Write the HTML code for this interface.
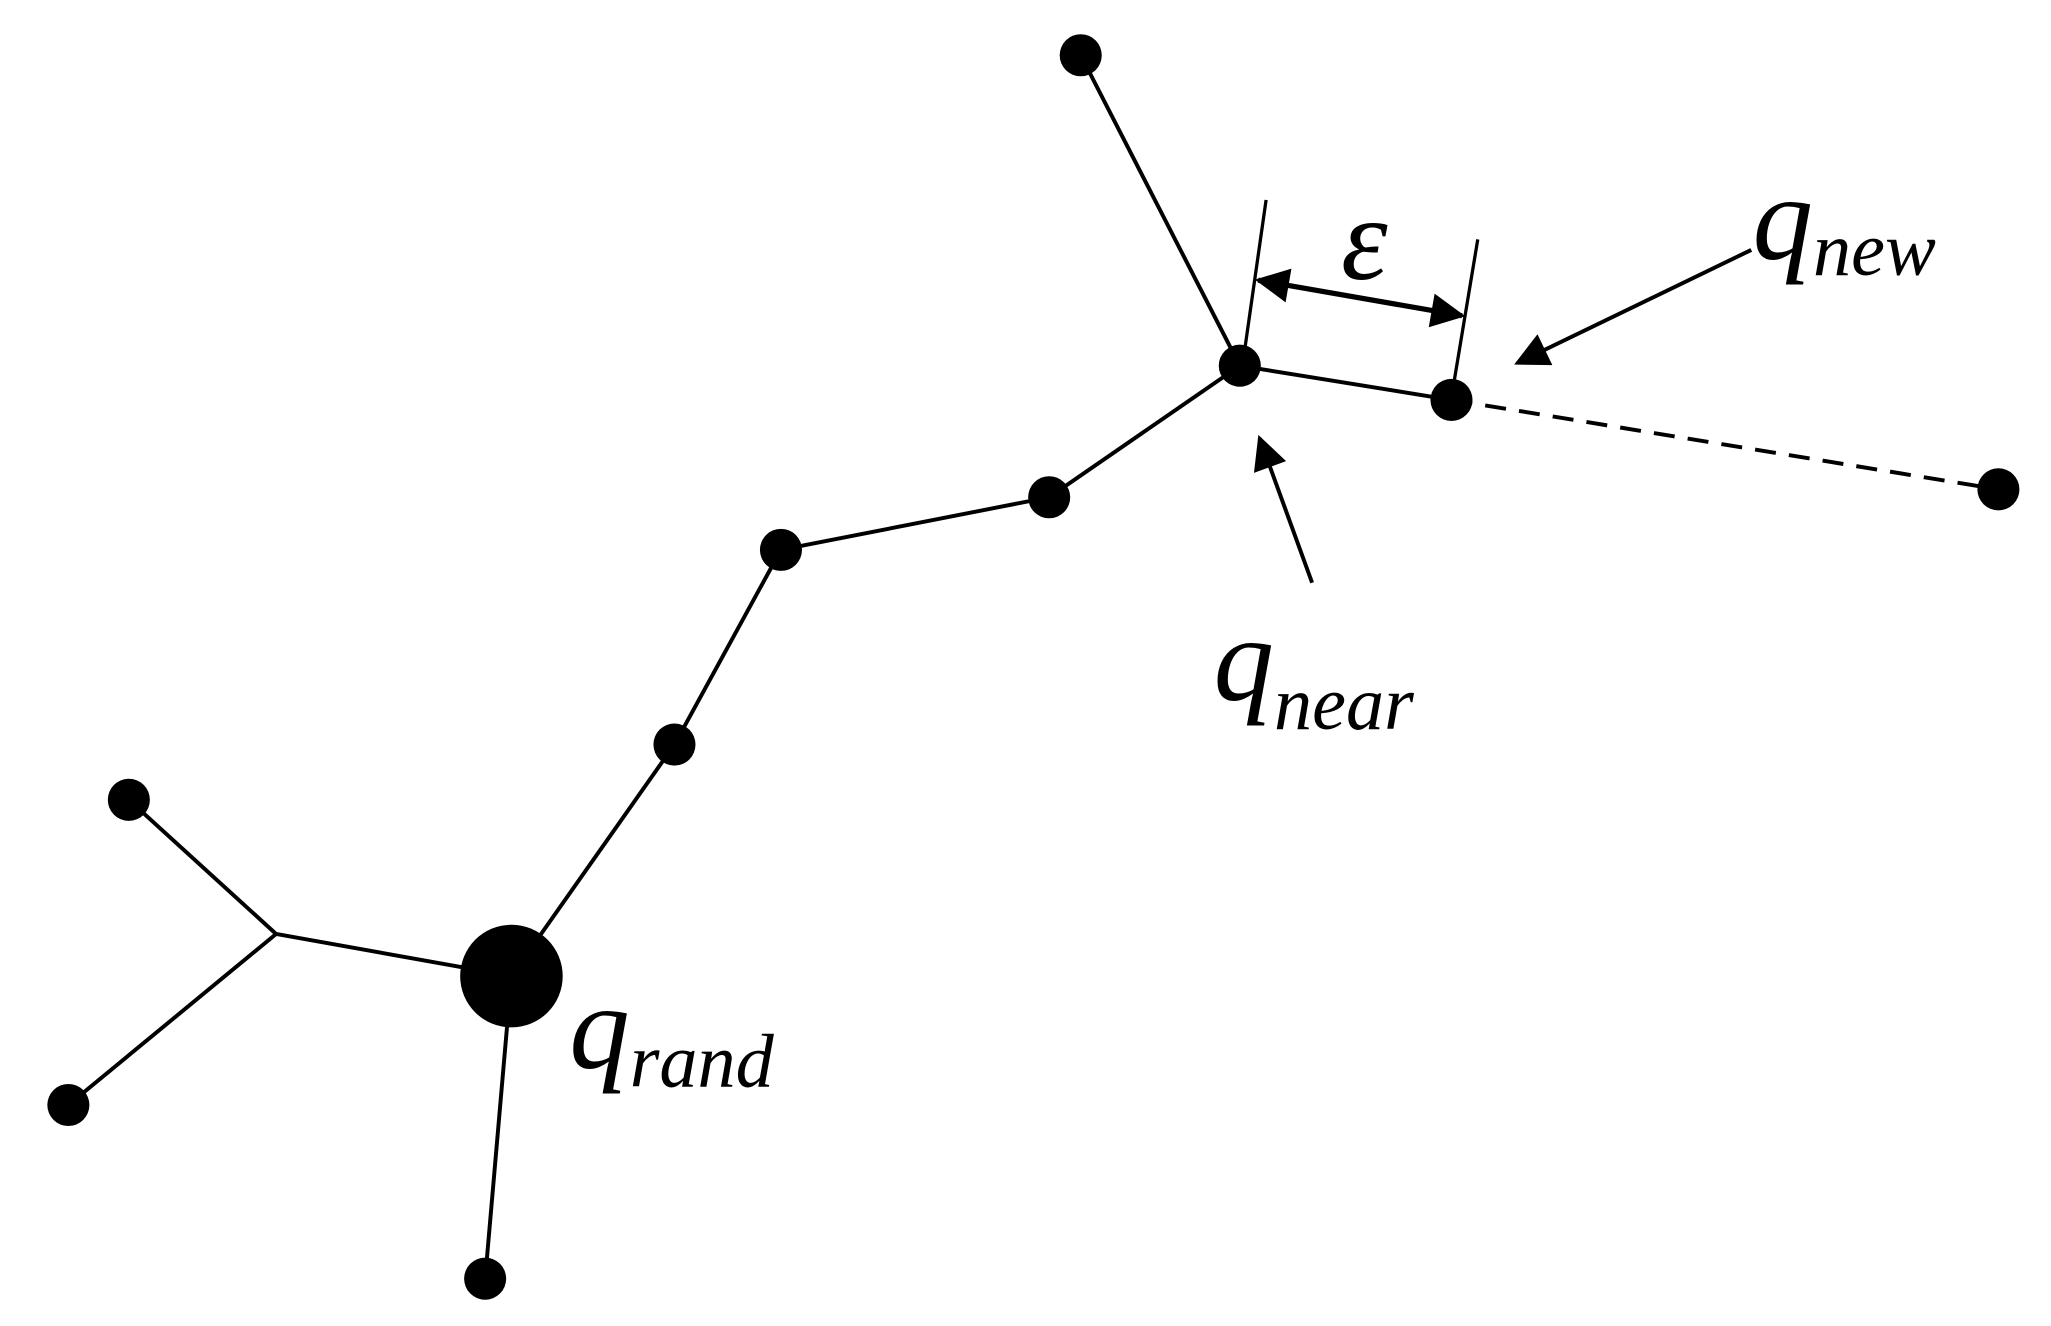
<!DOCTYPE html>
<html><head><style>html,body{margin:0;padding:0;background:#fff;}svg{display:block}</style></head>
<body>
<svg width="2051" height="1326" viewBox="0 0 1560 1008" preserveAspectRatio="none" xmlns="http://www.w3.org/2000/svg">
<defs>
<marker id="ah2" viewBox="0 0 10 10" refX="9" refY="5" markerWidth="28" markerHeight="26" markerUnits="userSpaceOnUse" orient="auto-start-reverse">
<path d="M0,0 L10,5 L0,10 z" fill="#000"/>
</marker>
</defs>
<g stroke="#000" stroke-width="3" fill="none">
<line x1="822" y1="42" x2="943" y2="278"/>
<line x1="943" y1="278" x2="798" y2="378"/>
<line x1="798" y1="378" x2="594" y2="418"/>
<line x1="594" y1="418" x2="513" y2="566"/>
<line x1="513" y1="566" x2="389" y2="742"/>
<line x1="389" y1="742" x2="210" y2="710"/>
<line x1="210" y1="710" x2="98" y2="608"/>
<line x1="210" y1="710" x2="52" y2="840"/>
<line x1="389" y1="742" x2="369" y2="972"/>
<line x1="943" y1="278" x2="1104" y2="304"/>
<line x1="1104" y1="304" x2="1520" y2="372" stroke-dasharray="16,10"/>
<line x1="963" y1="152" x2="945" y2="278" stroke-width="2.5"/>
<line x1="1124" y1="182" x2="1106" y2="290" stroke-width="2.5"/>
<line x1="957" y1="213" x2="1112" y2="240" stroke-width="4" marker-start="url(#ah2)" marker-end="url(#ah2)"/>
<line x1="1332" y1="190" x2="1154" y2="276" marker-end="url(#ah2)"/>
<line x1="998" y1="443" x2="958" y2="333" marker-end="url(#ah2)"/>
</g>
<g fill="#000">
<circle cx="822" cy="42" r="16"/>
<circle cx="943" cy="278" r="16"/>
<circle cx="1104" cy="304" r="16"/>
<circle cx="1520" cy="372" r="16"/>
<circle cx="798" cy="378" r="16"/>
<circle cx="594" cy="418" r="16"/>
<circle cx="513" cy="566" r="16"/>
<circle cx="98" cy="608" r="16"/>
<circle cx="52" cy="840" r="16"/>
<circle cx="369" cy="972" r="16"/>
<circle cx="389" cy="742" r="39"/>
</g>
<g font-family="Liberation Serif, serif" font-style="italic" fill="#000">
<text x="1020" y="212" font-size="90">ε</text>
<text x="1333" y="197" font-size="92">q<tspan font-size="58" dy="12">new</tspan></text>
<text x="923" y="532" font-size="92">q<tspan font-size="58" dy="22">near</tspan></text>
<text x="433" y="812" font-size="92">q<tspan font-size="58" dy="14">rand</tspan></text>
</g>
</svg>
</body></html>
